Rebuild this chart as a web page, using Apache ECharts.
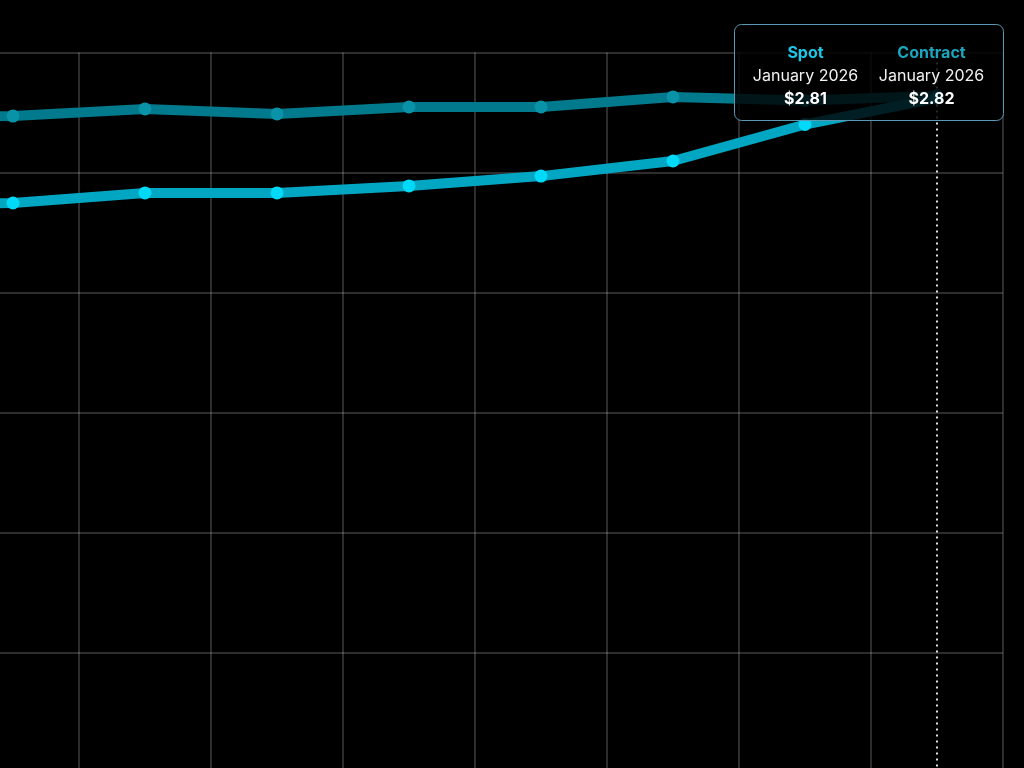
<!DOCTYPE html>
<html>
<head>
<meta charset="utf-8">
<script src="https://cdn.jsdelivr.net/npm/echarts@6/dist/echarts.min.js"></script>
<style>
html,body{margin:0;padding:0;background:#000;overflow:hidden;width:1024px;height:768px;}
#wrap{position:relative;width:1024px;height:768px;overflow:hidden;}
#chart{position:absolute;left:-185px;top:0;width:1209px;height:773px;}
</style>
</head>
<body>
<div id="wrap"><div id="chart"></div></div>
<script>
const categories = ['May 2025','June 2025','July 2025','August 2025','September 2025','October 2025','November 2025','December 2025','January 2026'];
const spotValues = [2.365, 2.373, 2.415, 2.415, 2.444, 2.485, 2.548, 2.70, 2.81];
const contractValues = [2.73, 2.735, 2.765, 2.744, 2.773, 2.773, 2.815, 2.80, 2.82];
const seriesNames = ['Spot', 'Contract'];
const yTicks = [0, 0.5, 1, 1.5, 2, 2.5, 3];

const SPOT_LINE = '#00a6c2';
const SPOT_DOT = '#00d9f7';
const CON_LINE = '#007a8c';
const CON_DOT = '#0a93a8';
const SHIFT = 185;

const chart = echarts.init(document.getElementById('chart'));
const last = categories.length - 1;
const fmt = v => '$' + v.toFixed(2);

function txt(x, y, text, fill, bold) {
  return {
    type: 'text', x: x, y: y, z: 101,
    style: {
      text: text, fill: fill,
      font: (bold ? 'bold ' : '') + '16px Inter, sans-serif',
      textAlign: 'center', textVerticalAlign: 'middle'
    }
  };
}

const gridLine = { show: true, lineStyle: { color: 'rgba(255,255,255,0.24)', width: 1.5 } };

const option = {
  backgroundColor: '#000',
  animation: false,
  grid: { left: 0, right: 21, top: 52.5, bottom: 0.5, containLabel: false },
  xAxis: {
    type: 'category',
    data: categories,
    boundaryGap: true,
    axisLine: { show: false },
    axisTick: { show: false },
    axisLabel: { show: false },
    splitLine: gridLine
  },
  yAxis: {
    type: 'value',
    min: yTicks[0],
    max: yTicks[yTicks.length - 1],
    interval: yTicks[1] - yTicks[0],
    axisLine: { show: false },
    axisTick: { show: false },
    axisLabel: { show: false },
    splitLine: gridLine
  },
  series: [
    {
      name: seriesNames[1],
      type: 'line',
      data: contractValues,
      symbol: 'circle',
      symbolSize: 13,
      showAllSymbol: true,
      lineStyle: { color: CON_LINE, width: 10 },
      itemStyle: { color: CON_DOT },
      z: 2
    },
    {
      name: seriesNames[0],
      type: 'line',
      data: spotValues,
      symbol: 'circle',
      symbolSize: 13,
      showAllSymbol: true,
      lineStyle: { color: SPOT_LINE, width: 10 },
      itemStyle: { color: SPOT_DOT },
      z: 3,
      markLine: {
        silent: true,
        symbol: 'none',
        label: { show: false },
        lineStyle: { color: '#e0e0e0', width: 2, type: [2, 4] },
        data: [{ xAxis: categories[last] }]
      }
    }
  ],
  graphic: [
    {
      type: 'group',
      left: 734 + SHIFT,
      top: 24,
      z: 100,
      children: [
        {
          type: 'rect', z: 100,
          shape: { x: 0, y: 0, width: 269, height: 96, r: 7 },
          style: { fill: 'rgba(0,0,0,0.82)', stroke: '#5b98b3', lineWidth: 1 }
        },
        txt(71, 29, seriesNames[0], '#1cc6e6', true),
        txt(197, 29, seriesNames[1], '#19a6be', true),
        txt(71, 52, categories[last], '#f2f2f2', false),
        txt(197, 52, categories[last], '#f2f2f2', false),
        txt(71, 75, fmt(spotValues[last]), '#ffffff', true),
        txt(197, 75, fmt(contractValues[last]), '#ffffff', true)
      ]
    }
  ]
};
chart.setOption(option);
</script>
</body>
</html>
